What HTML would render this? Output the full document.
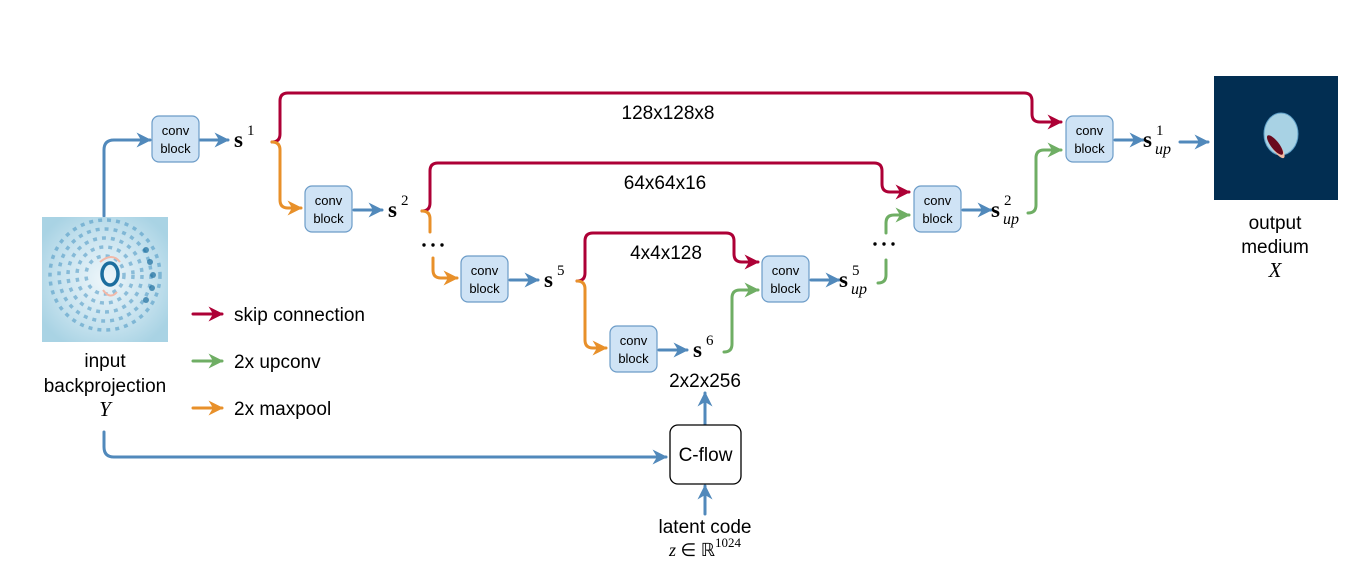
<!DOCTYPE html>
<html><head><meta charset="utf-8"><style>
html,body{margin:0;padding:0;background:#fff;}
svg{display:block;font-family:"Liberation Sans",sans-serif;}
.s{font-family:"Liberation Serif",serif;}
</style></head><body>
<svg width="1351" height="574" viewBox="0 0 1351 574" xmlns="http://www.w3.org/2000/svg">
<defs>
<marker id="ab" viewBox="0 0 10 10" refX="9" refY="5" markerWidth="15" markerHeight="15" markerUnits="userSpaceOnUse" orient="auto"><path d="M0,0 L10,5 L0,10 L3,5 Z" fill="#5189bb"/></marker>
<marker id="ar" viewBox="0 0 10 10" refX="9" refY="5" markerWidth="15" markerHeight="15" markerUnits="userSpaceOnUse" orient="auto"><path d="M0,0 L10,5 L0,10 L3,5 Z" fill="#ad0036"/></marker>
<marker id="ao" viewBox="0 0 10 10" refX="9" refY="5" markerWidth="15" markerHeight="15" markerUnits="userSpaceOnUse" orient="auto"><path d="M0,0 L10,5 L0,10 L3,5 Z" fill="#e8902a"/></marker>
<marker id="ag" viewBox="0 0 10 10" refX="9" refY="5" markerWidth="15" markerHeight="15" markerUnits="userSpaceOnUse" orient="auto"><path d="M0,0 L10,5 L0,10 L3,5 Z" fill="#6fae64"/></marker>
<radialGradient id="ig" cx="0.5" cy="0.5" r="0.6"><stop offset="0" stop-color="#eef6fa"/><stop offset="0.6" stop-color="#c8e3ef"/><stop offset="1" stop-color="#a9d3e4"/></radialGradient>
</defs>
<g fill="none" stroke-width="3" stroke-linecap="round" stroke-linejoin="round">
<path d="M104,216 V150 Q104,140 114,140 H150" stroke="#5189bb" marker-end="url(#ab)"/>
<path d="M200,140 H228" stroke="#5189bb" marker-end="url(#ab)"/>
<path d="M354,210 H382" stroke="#5189bb" marker-end="url(#ab)"/>
<path d="M510,280 H538" stroke="#5189bb" marker-end="url(#ab)"/>
<path d="M659,350 H687" stroke="#5189bb" marker-end="url(#ab)"/>
<path d="M811,280 H839" stroke="#5189bb" marker-end="url(#ab)"/>
<path d="M963,210 H991" stroke="#5189bb" marker-end="url(#ab)"/>
<path d="M1115,140 H1143" stroke="#5189bb" marker-end="url(#ab)"/>
<path d="M1180,142 H1208" stroke="#5189bb" marker-end="url(#ab)"/>
<path d="M104,432 V447 Q104,457 114,457 H666" stroke="#5189bb" marker-end="url(#ab)"/>
<path d="M705,424 V393" stroke="#5189bb" marker-end="url(#ab)"/>
<path d="M705,514 V486" stroke="#5189bb" marker-end="url(#ab)"/>
<path d="M272,142 Q280,142 280,134 V101 Q280,93 288,93 H1024 Q1032,93 1032,101 V114 Q1032,122 1040,122 H1061" stroke="#ad0036" marker-end="url(#ar)"/>
<path d="M422,211 Q430,211 430,203 V171 Q430,163 438,163 H874 Q882,163 882,171 V184 Q882,192 890,192 H909" stroke="#ad0036" marker-end="url(#ar)"/>
<path d="M577,281 Q585,281 585,273 V241 Q585,233 593,233 H726 Q734,233 734,241 V254 Q734,262 742,262 H758" stroke="#ad0036" marker-end="url(#ar)"/>
<path d="M272,142 Q280,142 280,150 V200 Q280,208 288,208 H301" stroke="#e8902a" marker-end="url(#ao)"/>
<path d="M422,211 Q430,211 430,219 V232" stroke="#e8902a"/>
<path d="M433,258 V270 Q433,278 441,278 H457" stroke="#e8902a" marker-end="url(#ao)"/>
<path d="M577,281 Q585,281 585,289 V340 Q585,348 593,348 H606" stroke="#e8902a" marker-end="url(#ao)"/>
<path d="M724,352 Q732,352 732,344 V298 Q732,290 740,290 H758" stroke="#6fae64" marker-end="url(#ag)"/>
<path d="M878,283 Q886,283 886,275 V260" stroke="#6fae64"/>
<path d="M886,233 V223 Q886,215 894,215 H909" stroke="#6fae64" marker-end="url(#ag)"/>
<path d="M1028,213 Q1036,213 1036,205 V158 Q1036,150 1044,150 H1061" stroke="#6fae64" marker-end="url(#ag)"/>
<path d="M193,314 H222" stroke="#ad0036" marker-end="url(#ar)"/>
<path d="M193,361 H222" stroke="#6fae64" marker-end="url(#ag)"/>
<path d="M193,408 H222" stroke="#e8902a" marker-end="url(#ao)"/>
</g>
<g fill="#cfe3f5" stroke="#6c9cc8" stroke-width="1.2">
<rect x="152" y="116" width="47" height="46" rx="7"/>
<rect x="305" y="186" width="47" height="46" rx="7"/>
<rect x="461" y="256" width="47" height="46" rx="7"/>
<rect x="610" y="326" width="47" height="46" rx="7"/>
<rect x="762" y="256" width="47" height="46" rx="7"/>
<rect x="914" y="186" width="47" height="46" rx="7"/>
<rect x="1066" y="116" width="47" height="46" rx="7"/>
</g>
<g font-size="13" text-anchor="middle" fill="#000">
<text x="175.5" y="135">conv</text><text x="175.5" y="153">block</text>
<text x="328.5" y="205">conv</text><text x="328.5" y="223">block</text>
<text x="484.5" y="275">conv</text><text x="484.5" y="293">block</text>
<text x="633.5" y="345">conv</text><text x="633.5" y="363">block</text>
<text x="785.5" y="275">conv</text><text x="785.5" y="293">block</text>
<text x="937.5" y="205">conv</text><text x="937.5" y="223">block</text>
<text x="1089.5" y="135">conv</text><text x="1089.5" y="153">block</text>
</g>
<g class="s" fill="#000" font-size="23" font-weight="bold">
<text x="234" y="147">s</text><text x="247" y="135" font-size="15" font-weight="normal">1</text>
<text x="388" y="217">s</text><text x="401" y="205" font-size="15" font-weight="normal">2</text>
<text x="544" y="287">s</text><text x="557" y="275" font-size="15" font-weight="normal">5</text>
<text x="693" y="357">s</text><text x="706" y="345" font-size="15" font-weight="normal">6</text>
<text x="839" y="287">s</text><text x="852" y="275" font-size="15" font-weight="normal">5</text><text x="851" y="294" font-size="16" font-weight="normal" font-style="italic">up</text>
<text x="991" y="217">s</text><text x="1004" y="205" font-size="15" font-weight="normal">2</text><text x="1003" y="224" font-size="16" font-weight="normal" font-style="italic">up</text>
<text x="1143" y="147">s</text><text x="1156" y="135" font-size="15" font-weight="normal">1</text><text x="1155" y="154" font-size="16" font-weight="normal" font-style="italic">up</text>
</g>
<g fill="#000"><circle cx="424" cy="245" r="1.7"/><circle cx="433" cy="245" r="1.7"/><circle cx="442" cy="245" r="1.7"/>
<circle cx="875" cy="244" r="1.7"/><circle cx="884" cy="244" r="1.7"/><circle cx="893" cy="244" r="1.7"/></g>
<g font-size="19" text-anchor="middle" fill="#000">
<text x="668" y="119">128x128x8</text>
<text x="665" y="189">64x64x16</text>
<text x="666" y="259">4x4x128</text>
<text x="705" y="387">2x2x256</text>
<text x="105" y="367">input</text>
<text x="105" y="392">backprojection</text>
<text x="1275" y="229">output</text>
<text x="1275" y="253">medium</text>
<text x="705" y="533">latent code</text>
</g>
<g class="s" font-size="21" font-style="italic" text-anchor="middle" fill="#000">
<text x="105" y="416">Y</text><text x="1275" y="277">X</text>
<text x="705" y="556" font-size="18">z <tspan font-style="normal">∈ ℝ</tspan><tspan font-style="normal" font-size="13" dy="-9">1024</tspan></text>
</g>
<g font-size="19" fill="#000">
<text x="234" y="321">skip connection</text>
<text x="234" y="368">2x upconv</text>
<text x="234" y="415">2x maxpool</text>
</g>
<rect x="670" y="425" width="71" height="59" rx="8" fill="#fff" stroke="#000" stroke-width="1.3"/>
<text x="705.5" y="461" font-size="19" text-anchor="middle">C-flow</text>
<rect x="42" y="217" width="126" height="125" fill="url(#ig)"/>
<g fill="none" stroke="#3f8fbf" stroke-width="3.5" opacity="0.5" stroke-dasharray="4 5">
<circle cx="105" cy="275" r="55"/><circle cx="105" cy="275" r="46"/><circle cx="105" cy="275" r="37"/><circle cx="105" cy="275" r="28"/><circle cx="105" cy="275" r="19"/>
</g>
<g fill="#1b6d9e" opacity="0.7"><circle cx="150" cy="262" r="3"/><circle cx="153" cy="275" r="3"/><circle cx="152" cy="288" r="3"/><circle cx="146" cy="250" r="3"/><circle cx="146" cy="300" r="3"/></g>
<ellipse cx="110" cy="274" rx="8" ry="11" fill="none" stroke="#1b6d9e" stroke-width="3.5"/>
<path d="M100,262 Q112,252 120,262" stroke="#f2b8a8" stroke-width="2" fill="none"/>
<path d="M103,290 Q110,300 117,292" stroke="#f2b8a8" stroke-width="2" fill="none"/>
<rect x="1214" y="76" width="124" height="124" fill="#022e52"/>
<ellipse cx="1281" cy="134" rx="17" ry="21" fill="#a8d2e4" stroke="#5fa0c8" stroke-width="1"/>
<ellipse cx="1277" cy="148" rx="4" ry="12" transform="rotate(-35 1277 148)" fill="#f0b9a4"/>
<ellipse cx="1275" cy="145" rx="4" ry="12" transform="rotate(-38 1275 145)" fill="#6a0a1e"/>
</svg>
</body></html>
